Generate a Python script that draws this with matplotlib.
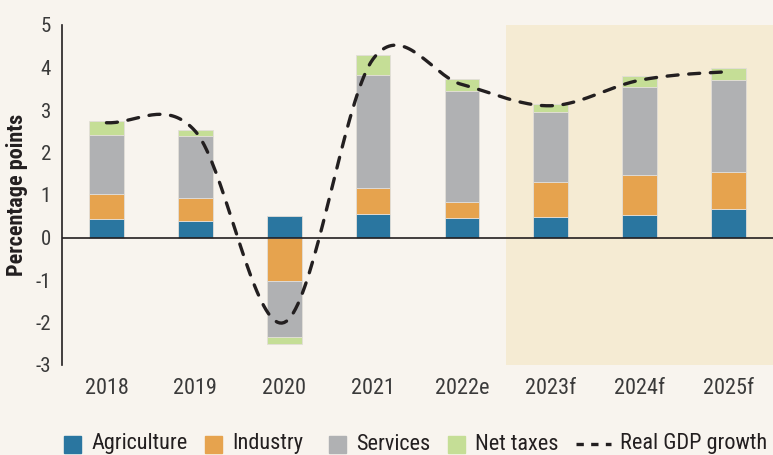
import numpy as np
import matplotlib.pyplot as plt
from matplotlib.patches import Rectangle
from matplotlib.lines import Line2D

years = ['2018', '2019', '2020', '2021', '2022e', '2023f', '2024f', '2025f']
agriculture = [0.43, 0.38, 0.51, 0.56, 0.47, 0.49, 0.54, 0.66]
industry = [0.60, 0.56, -1.02, 0.61, 0.36, 0.81, 0.94, 0.87]
services = [1.39, 1.44, -1.33, 2.65, 2.62, 1.65, 2.06, 2.17]
net_taxes = [0.33, 0.14, -0.16, 0.47, 0.27, 0.19, 0.25, 0.28]
gdp_growth = [2.7, 2.5, -2.0, 4.2, 3.6, 3.1, 3.7, 3.9]

plt.rcParams['font.family'] = ['Roboto Condensed', 'DejaVu Sans']

c_agri = '#2a76a0'
c_ind = '#e6a34e'
c_serv = '#b0b1b3'
c_tax = '#c5de96'
bg = '#f8f4ee'
txt = '#3a3a3a'
ink = '#231f20'


def smooth(y, n=40):
    # catmull-rom style smoothing like the spreadsheet "smoothed line"
    y = np.asarray(y, float)
    pts = np.concatenate([[y[0]], y, [y[-1]]])
    xs, ys = [], []
    for i in range(len(y) - 1):
        p0, p1, p2, p3 = pts[i], pts[i + 1], pts[i + 2], pts[i + 3]
        m1 = (p2 - p0) / 2
        m2 = (p3 - p1) / 2
        t = np.linspace(0, 1, n)
        h00 = 2 * t**3 - 3 * t**2 + 1
        h10 = t**3 - 2 * t**2 + t
        h01 = -2 * t**3 + 3 * t**2
        h11 = t**3 - t**2
        xs.append(i + t)
        ys.append(h00 * p1 + h10 * m1 + h01 * p2 + h11 * m2)
    return np.concatenate(xs), np.concatenate(ys)


W, H = 773, 455
fig = plt.figure(figsize=(W / 100, H / 100), dpi=100, facecolor=bg)
ax = fig.add_axes([62 / W, 1 - 365 / H, 1 - 62 / W, 340 / H])
ax.set_facecolor(bg)

x = np.arange(len(years))
w = 0.39
ax.axvspan(4.5, 7.5, color='#f5ebd3', zorder=0, lw=0)

agri = np.array(agriculture)
ind = np.array(industry)
serv = np.array(services)
tax = np.array(net_taxes)

ekw = dict(width=w, edgecolor='#e2ded8', linewidth=0.6, zorder=2)
ax.bar(x, agri, color=c_agri, **ekw)
ind_base = np.where(ind >= 0, agri, 0)
ax.bar(x, ind, bottom=ind_base, color=c_ind, **ekw)
serv_base = np.where(serv >= 0, ind_base + np.maximum(ind, 0), np.minimum(ind, 0))
ax.bar(x, serv, bottom=serv_base, color=c_serv, **ekw)
tax_base = np.where(tax >= 0, serv_base + np.maximum(serv, 0), serv_base + np.minimum(serv, 0))
ax.bar(x, tax, bottom=tax_base, color=c_tax, **ekw)

sx, sy = smooth(gdp_growth)
ax.plot(sx, sy, color=ink, lw=2.4, dashes=(3.3, 3.2), dash_capstyle='round', zorder=4)

ax.axhline(0, color=ink, lw=1.2, zorder=3)

ax.set_xlim(-0.5, 7.5)
ax.set_ylim(-3, 5)
ax.set_yticks(range(-3, 6))
ax.set_yticklabels([str(v) for v in range(-3, 6)])
ax.set_xticks(x)
ax.set_xticklabels(years)
ax.tick_params(axis='both', length=0, colors=txt)
ax.tick_params(axis='y', labelsize=15, pad=8)
ax.tick_params(axis='x', labelsize=16, pad=9)
for s in ['top', 'right', 'bottom']:
    ax.spines[s].set_visible(False)
ax.spines['left'].set_color(ink)
ax.spines['left'].set_linewidth(1.2)

fig.text(17 / W, 1 - 195 / H, 'Percentage points', rotation=90, fontsize=16,
         fontweight='bold', color=ink, ha='center', va='center')

# legend, laid out along the bottom
leg_y = 1 - 444 / H
sq = 17
items = [(64, c_agri, 'Agriculture'), (205, c_ind, 'Industry'),
         (329, c_serv, 'Services'), (448, c_tax, 'Net taxes')]
for px, col, lab in items:
    fig.patches.append(Rectangle((px / W, leg_y - sq / 2 / H), sq / W, sq / H,
                                 transform=fig.transFigure, color=col))
    fig.text((px + sq + 10) / W, leg_y, lab, fontsize=16, color=ink, va='center', ha='left')
fig.lines.append(Line2D([576 / W, 611 / W], [leg_y, leg_y], transform=fig.transFigure,
                        color=ink, lw=2.4, dashes=(2.2, 2.2), dash_capstyle='butt'))
fig.text(620 / W, leg_y, 'Real GDP growth', fontsize=16, color=ink, va='center', ha='left')

fig.savefig('out.png', dpi=100, facecolor=bg)
